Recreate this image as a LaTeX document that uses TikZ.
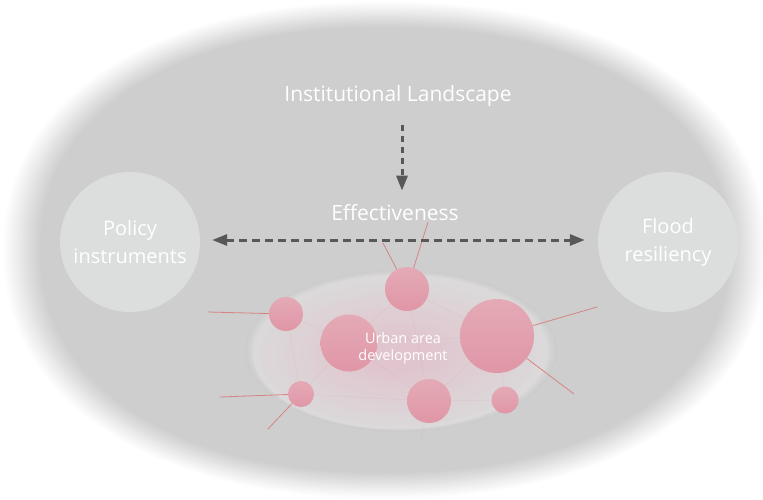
\documentclass[tikz,border=0pt]{standalone}
\usepackage{fontspec}
\setmainfont{Open Sans}
\usetikzlibrary{arrows.meta,positioning}

\definecolor{blobgray}{RGB}{204,204,204}
\definecolor{sidegray}{RGB}{220,221,221}
\definecolor{glowedge}{RGB}{219,217,218}
\definecolor{glowpink}{RGB}{225,197,206}
\definecolor{bubtop}{RGB}{228,170,181}
\definecolor{bubbot}{RGB}{224,150,166}
\definecolor{spokered}{RGB}{214,132,130}
\definecolor{arrowgray}{RGB}{88,88,88}

\pgfdeclarelayer{back}
\pgfdeclarelayer{lines}
\pgfsetlayers{back,lines,main}

\begin{document}
\begin{tikzpicture}[x=1pt, y=-1pt,
  >={Triangle[length=15pt,width=11pt]},
  side/.style={circle, fill=sidegray, minimum size=140pt, inner sep=0pt, align=center, text=white, font=\fontsize{20}{28}\selectfont},
  bubble/.style={circle, inner sep=0pt, top color=bubtop, bottom color=bubbot},
  spoke/.style={draw=spokered, line width=0.8pt},
  faint/.style={draw=spokered, line width=0.5pt, opacity=0.13},
  flow/.style={draw=arrowgray, line width=3pt, dash pattern=on 8pt off 5pt},
  title/.style={text=white, inner sep=0pt, font=\fontsize{21}{25}\selectfont}
]
\useasboundingbox (0,0) rectangle (763,499);

% soft grey background (superellipse, faded edge)
\begin{pgfonlayer}{back}
\foreach \i in {0,...,24}{
  \pgfmathsetmacro\rx{383-1.6*\i}
  \pgfmathsetmacro\ry{249-1.1*\i}
  \pgfmathtruncatemacro\p{4*\i}
  \fill[blobgray!\p!white] plot[domain=0:360, samples=121, smooth]
    ({385+\rx*sign(cos(\x))*pow(abs(cos(\x)),0.91)}, {250+\ry*sign(sin(\x))*pow(abs(sin(\x)),0.91)});
}
% urban area glow
\foreach \i in {0,...,5}{
  \pgfmathsetmacro\r{1-0.012*\i}
  \pgfmathtruncatemacro\p{20*\i}
  \fill[glowedge!\p!blobgray] (401,351) ellipse ({156*\r} and {81*\r});
}
\foreach \i in {0,...,14}{
  \pgfmathsetmacro\r{0.93-0.05*\i}
  \pgfmathtruncatemacro\p{7*\i}
  \fill[glowpink!\p!glowedge] (398,354) ellipse ({156*\r} and {81*\r});
}
\end{pgfonlayer}

% urban area bubbles
\node[bubble, minimum size=44pt] (top) at (407,289) {};
\node[bubble, minimum size=34pt] (lsm) at (286,314) {};
\node[bubble, minimum size=57pt] (bigl) at (349,343) {};
\node[bubble, minimum size=74pt] (bigr) at (497,336) {};
\node[bubble, minimum size=26pt] (bl) at (301,394) {};
\node[bubble, minimum size=44pt] (bm) at (429,401) {};
\node[bubble, minimum size=27pt] (br) at (505,400) {};

\coordinate (s1) at (383,243);
\coordinate (s2) at (428,222);
\coordinate (s3) at (208,312);
\coordinate (s4) at (597,307);
\coordinate (s5) at (574,394);
\coordinate (s6) at (220,397);
\coordinate (s7) at (268,429);
\coordinate (s8) at (421,440);

\begin{pgfonlayer}{lines}
\foreach \a/\b in {lsm/bigl, lsm/bl, bl/bigl, bl/bm, bigl/top, top/bigr, top/bm,
                   bigl/bm, bm/bigr, bigr/br, bm/br, bigl/bigr, bm/s8}
  \draw[faint] (\a) -- (\b);

\draw[spoke] (s1) -- (top);
\draw[spoke] (s2) -- (top);
\draw[spoke] (s3) -- (lsm);
\draw[spoke] (s4) -- (bigr);
\draw[spoke] (s5) -- (bigr);
\draw[spoke] (s6) -- (bl);
\draw[spoke] (s7) -- (bl);
\end{pgfonlayer}

\node[text=white, align=center, font=\fontsize{14.5}{17}\selectfont] (urban) at (403,348) {Urban area\\development};

% outer concepts
\node[side] (pol) at (130,242) {Policy\\instruments};
\node[side] (fld) at (668,242) {Flood\\resiliency};

\node[title] (inst) at (398,96) {Institutional Landscape};
\node[title] (eff) at (395,213) {Effectiveness};

\coordinate (axis) at (402,0);
\draw[flow, dash pattern=on 6pt off 5pt, ->, shorten <=18pt, shorten >=14pt] (inst.south -| axis) -- (eff.north -| axis);
\draw[flow, <->, shorten <=12pt, shorten >=13pt] ([yshift=2pt]pol.east) -- ([yshift=2pt]fld.west);
\end{tikzpicture}
\end{document}
